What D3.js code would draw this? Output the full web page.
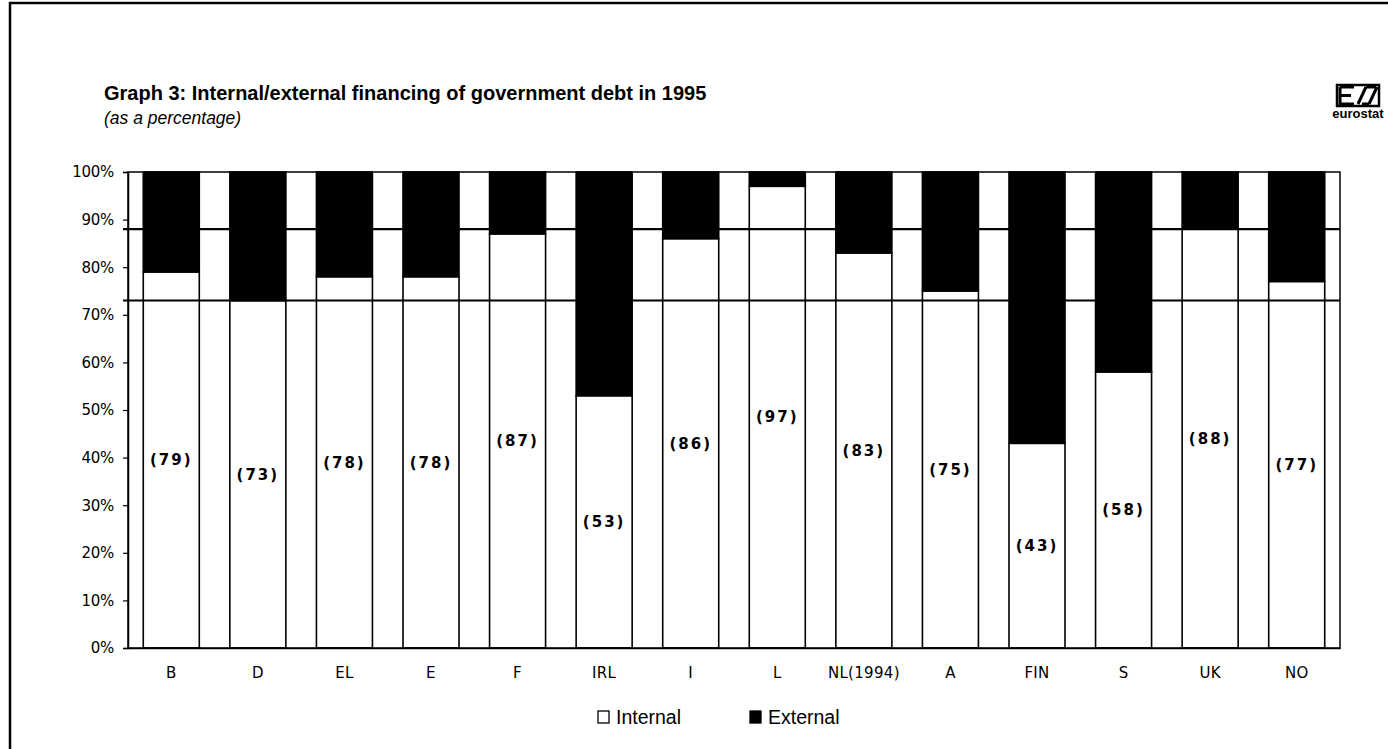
<!DOCTYPE html>
<html>
<head>
<meta charset="utf-8">
<script src="https://cdn.jsdelivr.net/npm/d3@7"></script>
<style>
  html, body { margin: 0; padding: 0; background: #fff; }
  svg { display: block; }
</style>
</head>
<body>
<svg id="chart" width="1388" height="749"></svg>
<script>
// Countries shown along the x axis
const categories = ["B", "D", "EL", "E", "F", "IRL", "I", "L", "NL(1994)", "A", "FIN", "S", "UK", "NO"];
// Share of government debt financed internally (%)
const internalShare = [79, 73, 78, 78, 87, 53, 86, 97, 83, 75, 43, 58, 88, 77];
// Share of government debt financed externally (%)
const externalShare = [21, 27, 22, 22, 13, 47, 14, 3, 17, 25, 57, 42, 12, 23];
// Horizontal reference levels (%)
const referenceLevels = [88, 73];
// Y axis ticks
const yTicks = [0, 10, 20, 30, 40, 50, 60, 70, 80, 90, 100];
// Legend entries
const legendItems = ["Internal", "External"];

const svg = d3.select("#chart");
const axisFont = "'DejaVu Sans', sans-serif";
const textFont = "'Liberation Sans', Arial, sans-serif";

const plot = { left: 128, right: 1340, top: 172, bottom: 648 };

const x = d3.scaleBand()
  .domain(categories)
  .range([plot.left, plot.right])
  .paddingInner(0.353)
  .paddingOuter(0.1765);

const y = d3.scaleLinear()
  .domain([0, 100])
  .range([plot.bottom, plot.top]);

// Page frame (left and top edges)
svg.append("path")
  .attr("d", `M10,749 L10,3 L1388,3`)
  .attr("fill", "none")
  .attr("stroke", "#000")
  .attr("stroke-width", 2.5);

// Title and subtitle
svg.append("text")
  .attr("x", 104).attr("y", 100)
  .attr("font-family", textFont)
  .attr("font-weight", "bold")
  .attr("font-size", 20)
  .attr("fill", "#000")
  .text("Graph 3: Internal/external financing of government debt in 1995");

svg.append("text")
  .attr("x", 104).attr("y", 124)
  .attr("font-family", textFont)
  .attr("font-style", "italic")
  .attr("font-size", 17.5)
  .attr("fill", "#000")
  .text("(as a percentage)");

// Eurostat logo
const logo = svg.append("g").attr("transform", "translate(1336,84)");
logo.append("rect")
  .attr("x", 1).attr("y", 1).attr("width", 42).attr("height", 21)
  .attr("fill", "#fff").attr("stroke", "#000").attr("stroke-width", 2.5);
logo.append("path")
  .attr("d", "M4,3 L4,20 L18,20 M4,11.5 L15,11.5 M4,3 L18,3 M22,20 L30,3 M30,3 L40,3 M33,20 L41,3 M26,20 L33,20")
  .attr("fill", "none").attr("stroke", "#000").attr("stroke-width", 3);
logo.append("text")
  .attr("x", 22).attr("y", 34)
  .attr("text-anchor", "middle")
  .attr("font-family", "'Liberation Sans Narrow', 'Liberation Sans', sans-serif")
  .attr("font-weight", "bold")
  .attr("font-size", 13)
  .attr("fill", "#000")
  .text("eurostat");

// Stacked bars: internal part (white) then external part (black)
const rows = categories.map((c, i) => ({ c, internal: internalShare[i], external: externalShare[i] }));
const stacked = d3.stack().keys(["internal", "external"])(rows);

svg.append("g")
  .selectAll("g")
  .data(stacked)
  .join("g")
  .attr("fill", d => d.key === "internal" ? "#fff" : "#000")
  .selectAll("rect")
  .data(d => d)
  .join("rect")
  .attr("x", d => x(d.data.c))
  .attr("width", x.bandwidth())
  .attr("y", d => y(d[1]))
  .attr("height", d => y(d[0]) - y(d[1]))
  .attr("stroke", "#000")
  .attr("stroke-width", 1.6);

// Plot frame
svg.append("rect")
  .attr("x", plot.left).attr("y", plot.top)
  .attr("width", plot.right - plot.left)
  .attr("height", plot.bottom - plot.top)
  .attr("fill", "none")
  .attr("stroke", "#000")
  .attr("stroke-width", 1.5);

// Reference lines
svg.append("g")
  .selectAll("line")
  .data(referenceLevels)
  .join("line")
  .attr("x1", plot.left - 5).attr("x2", plot.right)
  .attr("y1", d => y(d)).attr("y2", d => y(d))
  .attr("stroke", "#000")
  .attr("stroke-width", 2.2);

// Y axis
const yAxis = svg.append("g")
  .attr("transform", `translate(${plot.left},0)`)
  .call(d3.axisLeft(y).tickValues(yTicks).tickFormat(d => d + "%").tickSize(5).tickPadding(9));
yAxis.select(".domain").attr("stroke", "#000").attr("stroke-width", 1.5);
yAxis.selectAll(".tick line").attr("stroke", "#000").attr("stroke-width", 1.2);
yAxis.selectAll(".tick text")
  .style("font-family", axisFont)
  .style("font-size", "15px")
  .attr("letter-spacing", "-0.3px")
  .attr("fill", "#000");

// X axis
const xAxis = svg.append("g")
  .attr("transform", `translate(0,${plot.bottom})`)
  .call(d3.axisBottom(x).tickSize(0).tickPadding(19));
xAxis.select(".domain").attr("stroke", "#000").attr("stroke-width", 1.5);
xAxis.selectAll(".tick text")
  .style("font-family", axisFont)
  .style("font-size", "15px")
  .attr("letter-spacing", "0.3px")
  .attr("fill", "#000");

// Value labels at the middle of the internal part
svg.append("g")
  .selectAll("text")
  .data(rows)
  .join("text")
  .attr("x", d => x(d.c) + x.bandwidth() / 2)
  .attr("y", d => y(d.internal / 2))
  .attr("dy", "0.35em")
  .attr("text-anchor", "middle")
  .attr("font-family", axisFont)
  .attr("font-weight", "bold")
  .attr("font-size", 15)
  .attr("letter-spacing", "2px")
  .attr("fill", "#000")
  .text(d => `(${d.internal})`);

// Legend
const legend = svg.append("g");
const legendX = [598, 750];
legendItems.forEach((name, i) => {
  const g = legend.append("g").attr("transform", `translate(${legendX[i]},711)`);
  g.append("rect")
    .attr("x", 0).attr("y", 0).attr("width", 11).attr("height", 12)
    .attr("fill", i === 0 ? "#fff" : "#000")
    .attr("stroke", "#000").attr("stroke-width", 1.3);
  g.append("text")
    .attr("x", 18).attr("y", 13)
    .attr("font-family", textFont)
    .attr("font-size", 19.5)
    .attr("fill", "#000")
    .text(name);
});
</script>
</body>
</html>
